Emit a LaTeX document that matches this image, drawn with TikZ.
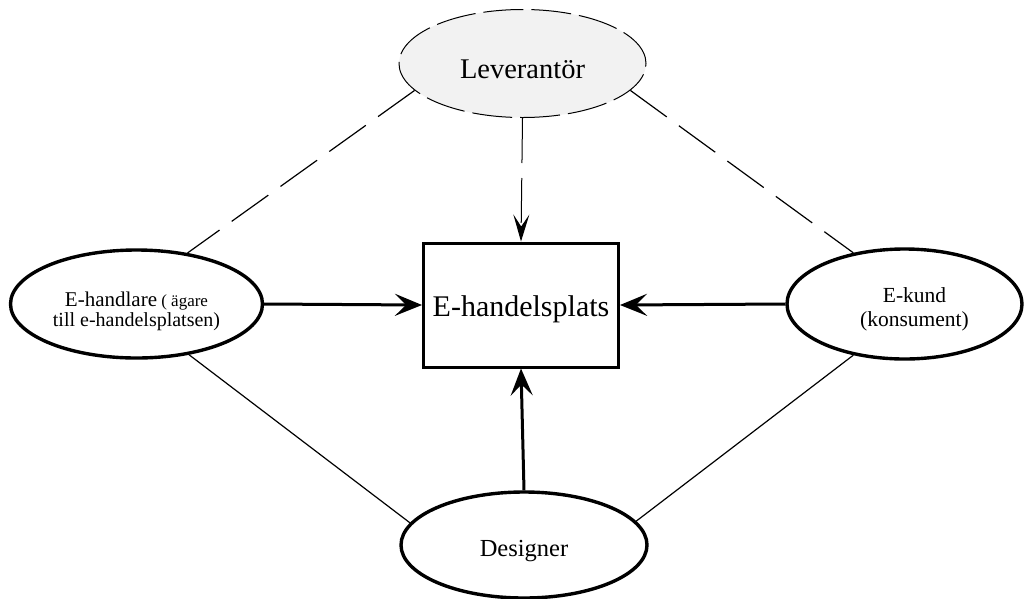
\documentclass[tikz,border=0pt]{standalone}
\usepackage{fontspec}
\setmainfont{Liberation Serif}
\usetikzlibrary{shapes.geometric,arrows.meta}
\definecolor{levfill}{HTML}{F2F2F2}
\tikzset{
 actor/.style={ellipse, draw, line width=3.4pt, inner sep=0pt, align=center},
 supplier/.style={ellipse, draw, line width=1pt, fill=levfill, dash pattern=on 40pt off 8pt, inner sep=0pt},
 hub/.style={rectangle, draw, line width=3pt, minimum width=195pt, minimum height=124pt, inner sep=0pt},
 flow/.style={line width=3pt, -{Stealth[length=27pt,width=22pt,inset=11pt]}},
 supply/.style={line width=1pt, dash pattern=on 45pt off 15pt, -{Stealth[length=27pt,width=16pt,inset=12pt]}},
 link/.style={line width=1.2pt},
 dlink/.style={line width=1.2pt, dash pattern=on 45pt off 15pt},
}
\newcommand{\lowered}[2]{\raisebox{-#1}[0pt][0pt]{#2}}
\begin{document}
\begin{tikzpicture}[x=1pt,y=-1pt]
\useasboundingbox (0,0) rectangle (1025,598);
\node[supplier, minimum width=247pt, minimum height=108pt, font=\fontsize{28.5}{32}\selectfont] (lev) at (522.5,63.5) {\lowered{14.5pt}{Leverantör}};
\node[hub, font=\fontsize{30}{34}\selectfont] (box) at (521,305) {\lowered{11.7pt}{E-handelsplats}};
\node[actor, minimum width=252pt, minimum height=108pt, font=\fontsize{20}{20}\selectfont] (han) at (136.5,304) {\lowered{2.7pt}{\begin{tabular}[t]{@{}c@{}}{\fontsize{21}{20}\selectfont E-handlare}{\fontsize{17}{20}\selectfont\ ( ägare}\\ till e-handelsplatsen)\end{tabular}}};
\node[actor, minimum width=235pt, minimum height=110pt, font=\fontsize{21.5}{24}\selectfont] (kund) at (904.5,304) {\lowered{-2pt}{\begin{tabular}[t]{@{\hspace{20pt}}c@{}}E-kund\\(konsument)\end{tabular}}};
\node[actor, minimum width=246pt, minimum height=106pt, font=\fontsize{24.5}{28}\selectfont] (des) at (524,545) {\lowered{11.7pt}{Designer}};
\draw[dlink] (lev.194) -- (han.45);
\draw[dlink] (lev.-14) -- (kund.135);
\draw[supply] (lev.south) -- (box.north);
\draw[flow] (han.east) -- (box.west);
\draw[flow] (kund.west) -- (box.east);
\draw[flow] (des.north) -- (box.south);
\draw[link] (han.-44) -- (des.169);
\draw[link] (kund.225) -- (des.12);
\end{tikzpicture}
\end{document}
